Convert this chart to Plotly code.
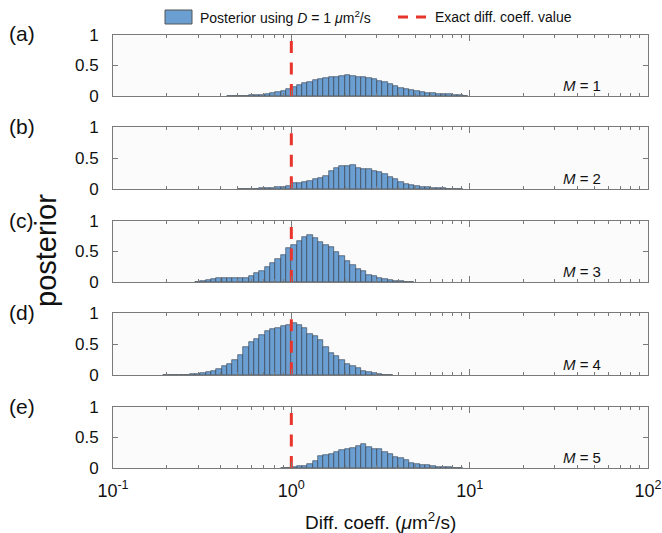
import numpy as np
import plotly.graph_objects as go
from plotly.subplots import make_subplots

# ---------------- data ----------------
bin_width_log10 = 0.03          # histogram bin width in log10(D)
exact_D = 1.0                   # exact diffusion coefficient (um^2/s)
exact_line_top = 0.9

panel_labels = ["(a)", "(b)", "(c)", "(d)", "(e)"]
M_values = [1, 2, 3, 4, 5]

# index of first bin (bin k spans [k*w, (k+1)*w] in log10 D)
a_first_bin = -12
a_vals = [0.005, 0.005, 0.005, 0.007, 0.01, 0.015, 0.02, 0.03, 0.045, 0.06, 0.08, 0.12,
          0.14, 0.175, 0.21, 0.235, 0.257, 0.28, 0.30, 0.31, 0.317, 0.333, 0.34, 0.33,
          0.317, 0.31, 0.295, 0.273, 0.246, 0.224, 0.19, 0.164, 0.137, 0.115, 0.098,
          0.077, 0.066, 0.055, 0.05, 0.038, 0.033, 0.027, 0.02, 0.01, 0.005]

b_first_bin = -10
b_vals = [0.003, 0.004, 0.005, 0.007, 0.01, 0.015, 0.02, 0.027, 0.04, 0.05,
          0.092, 0.10, 0.12, 0.136, 0.158, 0.185, 0.21, 0.29, 0.342, 0.364, 0.37,
          0.38, 0.337, 0.326, 0.315, 0.293, 0.277, 0.24, 0.196, 0.158, 0.114, 0.087,
          0.065, 0.054, 0.038, 0.027, 0.022, 0.016, 0.01, 0.008, 0.005, 0.003]

c_first_bin = -18
c_vals = [0.008, 0.017, 0.033, 0.05, 0.072, 0.072, 0.067, 0.06, 0.06, 0.067, 0.1,
          0.14, 0.178, 0.24, 0.306, 0.372, 0.444, 0.556,
          0.61, 0.667, 0.74, 0.767, 0.72, 0.65, 0.61, 0.57, 0.5, 0.43, 0.35, 0.28,
          0.22, 0.18, 0.12, 0.094, 0.067, 0.044, 0.028, 0.017, 0.01, 0.005, 0.003]

d_first_bin = -24
d_vals = [0.003, 0.004, 0.005, 0.005, 0.007, 0.01, 0.016, 0.027, 0.05, 0.07, 0.104,
          0.143, 0.18, 0.25, 0.33, 0.456, 0.53, 0.58, 0.64, 0.71, 0.74, 0.76, 0.786,
          0.81,
          0.84, 0.81, 0.76, 0.665, 0.63, 0.566, 0.456, 0.36, 0.30, 0.236, 0.18, 0.143,
          0.11, 0.07, 0.044, 0.027, 0.016, 0.008, 0.004]

e_first_bin = -2
e_vals = [0.003, 0.005,
          0.017, 0.028, 0.04, 0.067, 0.117, 0.195, 0.217, 0.222, 0.256, 0.29, 0.317,
          0.333, 0.356, 0.394, 0.344, 0.311, 0.306, 0.267, 0.222, 0.183, 0.167, 0.128,
          0.083, 0.067, 0.05, 0.044, 0.033, 0.022, 0.017, 0.011, 0.006, 0.003]

first_bins = [a_first_bin, b_first_bin, c_first_bin, d_first_bin, e_first_bin]
panel_vals = [a_vals, b_vals, c_vals, d_vals, e_vals]

x_major_exp = [-1, 0, 1, 2]
x_tick_text = ["10<sup>-1</sup>", "10<sup>0</sup>", "10<sup>1</sup>", "10<sup>2</sup>"]
y_tick_vals = [0, 0.5, 1]
y_tick_text = ["0", "0.5", "1"]

# ---------------- layout geometry (pixels) ----------------
W, H = 662, 533
L, R = 113, 648
TOP, BOT = 35, 468
panel_px = [(35, 96), (127, 189), (221, 282), (313, 375), (407, 468)]

def py2paper(py):
    return (BOT - py) / (BOT - TOP)

def px2paper(px):
    return (px - L) / (R - L)

BAR_FILL = "#6b9fd2"
BAR_EDGE = "#2f3b48"
RED = "#e8352c"
AX = "#7a7a7a"
FONT = "Liberation Sans, Arial, Helvetica, sans-serif"

fig = make_subplots(rows=5, cols=1)

minor_vals = [float(np.log10(m * 10.0 ** e)) for e in (-1, 0, 1) for m in range(2, 10)]

for i in range(5):
    vals = panel_vals[i]
    k0 = first_bins[i]
    centers = [(k0 + j + 0.5) * bin_width_log10 for j in range(len(vals))]
    fig.add_trace(go.Bar(x=centers, y=vals, width=bin_width_log10,
                         marker=dict(color=BAR_FILL, line=dict(color=BAR_EDGE, width=0.6)),
                         showlegend=False, hoverinfo="x+y"), row=i + 1, col=1)
    lx = float(np.log10(exact_D))
    fig.add_trace(go.Scatter(x=[lx, lx], y=[exact_line_top, 0], mode="lines",
                             line=dict(color=RED, width=3, dash="12px,9.5px"),
                             showlegend=False, hoverinfo="skip"), row=i + 1, col=1)

    top, bot = panel_px[i]
    axname = "xaxis" if i == 0 else f"xaxis{i+1}"
    yname = "yaxis" if i == 0 else f"yaxis{i+1}"
    fig.layout[axname].update(
        domain=[0, 1], range=[-1, 2], tickmode="array", tickvals=x_major_exp,
        ticktext=x_tick_text, showticklabels=(i == 4), ticks="inside", ticklen=6,
        tickcolor=AX, tickwidth=1, showline=True, linecolor=AX, linewidth=1,
        mirror="ticks", showgrid=False, zeroline=False, automargin=False,
        tickfont=dict(family=FONT, size=18, color="#111"), ticklabelstandoff=6,
        minor=dict(tickmode="array", tickvals=minor_vals, ticks="inside", ticklen=3,
                   tickcolor=AX, tickwidth=1, showgrid=False))
    fig.layout[yname].update(
        domain=[py2paper(bot), py2paper(top)], range=[0, 1], tickmode="array",
        tickvals=y_tick_vals, ticktext=y_tick_text, ticks="inside", ticklen=5,
        tickcolor=AX, showline=True, linecolor=AX, linewidth=1, mirror="ticks",
        showgrid=False, zeroline=False, ticklabelstandoff=10, automargin=False,
        tickfont=dict(family=FONT, size=17, color="#111"))

    # panel label
    fig.add_annotation(x=px2paper(7), y=py2paper(top - 1), xref="paper", yref="paper",
                       text=panel_labels[i], showarrow=False, xanchor="left",
                       yanchor="middle", font=dict(family=FONT, size=21, color="#111"))
    # M annotation
    fig.add_annotation(x=1.75, y=0.17, xref=f"x{i+1}" if i else "x",
                       yref=f"y{i+1}" if i else "y",
                       text=f"<i>M</i> = {M_values[i]}", showarrow=False,
                       xanchor="right", yanchor="middle",
                       font=dict(family=FONT, size=15, color="#111"))

# y-axis title
fig.add_annotation(x=px2paper(46), y=py2paper(251), xref="paper", yref="paper",
                   text="posterior", textangle=-90, showarrow=False,
                   xanchor="center", yanchor="middle",
                   font=dict(family=FONT, size=29, color="#111"))
# x-axis title
fig.add_annotation(x=0.5, y=py2paper(521), xref="paper", yref="paper",
                   text="Diff. coeff. (<i>μ</i>m<sup>2</sup>/s)", showarrow=False,
                   xanchor="center", yanchor="middle",
                   font=dict(family=FONT, size=19, color="#111"))

# manual legend
fig.add_shape(type="rect", xref="paper", yref="paper",
              x0=px2paper(165), x1=px2paper(192), y0=py2paper(24), y1=py2paper(10),
              fillcolor=BAR_FILL, line=dict(color="#555", width=1))
fig.add_annotation(x=px2paper(198), y=py2paper(17), xref="paper", yref="paper",
                   text="Posterior using <i>D</i> = 1 <i>μ</i>m<sup>2</sup>/s",
                   showarrow=False, xanchor="left", yanchor="middle",
                   font=dict(family=FONT, size=14, color="#111"))
fig.add_shape(type="line", xref="paper", yref="paper",
              x0=px2paper(398), x1=px2paper(426), y0=py2paper(17), y1=py2paper(17),
              line=dict(color=RED, width=3, dash="10px,8px"))
fig.add_annotation(x=px2paper(433), y=py2paper(17), xref="paper", yref="paper",
                   text="Exact diff. coeff. value", showarrow=False,
                   xanchor="left", yanchor="middle",
                   font=dict(family=FONT, size=14, color="#111"))

fig.update_layout(width=W, height=H, margin=dict(l=L, r=W - R, t=TOP, b=H - BOT,
                                                 autoexpand=False),
                  paper_bgcolor="white", plot_bgcolor="#fbfbfb", barmode="overlay",
                  bargap=0, showlegend=False, font=dict(family=FONT, color="#111"))

fig.write_html("out.html", config={"displayModeBar": False},
               post_script="document.body.style.margin='0px';"
                           "document.body.style.overflow='hidden';")
